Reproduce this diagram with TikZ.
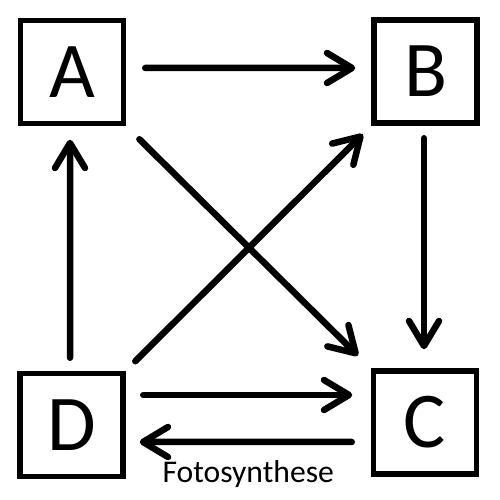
\documentclass[tikz,border=0pt]{standalone}
\usepackage{fontspec}
\setmainfont{Carlito}
\usetikzlibrary{arrows.meta}
\begin{document}
\begin{tikzpicture}[scale=1,
    box/.style={draw,line width=0.11cm,minimum size=2.06cm,inner sep=0pt,font=\fontsize{45}{54}\selectfont},
    arr/.style={line width=0.13cm,line cap=round,-{Straight Barb[length=0.5cm,width=0.6cm,round]}}]
    \useasboundingbox (0,0) rectangle (10,10);
    \node[box](a) at (1.44,8.56) {A};
    \node[box](b) at (8.51,8.57) {B};
    \node[box](c) at (8.50,1.55) {C};
    \node[box](d) at (1.43,1.50) {D};
    \draw[arr,shorten <=0.38cm,shorten >=0.32cm]([yshift=0.08cm]a.east)--([yshift=0.07cm]b.west);
    \draw[arr,shorten <=0.25cm,shorten >=0.38cm]([xshift=-0.03cm]b.south)--([xshift=-0.02cm]c.north);
    \draw[arr,shorten <=0.26cm,shorten >=0.27cm]([xshift=-0.03cm]d.north)--([xshift=-0.04cm]a.south);
    \draw[arr,shorten <=0.37cm,shorten >=0.36cm](a.south east)--(c.north west);
    \draw[arr,shorten <=0.27cm,shorten >=0.24cm](d.north east)--(b.south west);
    \draw[arr,shorten <=0.35cm,shorten >=0.37cm]([yshift=0.60cm]d.east)--([yshift=0.55cm]c.west);
    \draw[arr,shorten <=0.38cm,shorten >=0.28cm]([yshift=-0.39cm]c.west)--([yshift=-0.34cm]d.east)
        node(e)[midway,anchor=base,yshift=-0.82cm,font=\fontsize{18}{22}\selectfont]{Fotosynthese};
    \end{tikzpicture}
\end{document}
